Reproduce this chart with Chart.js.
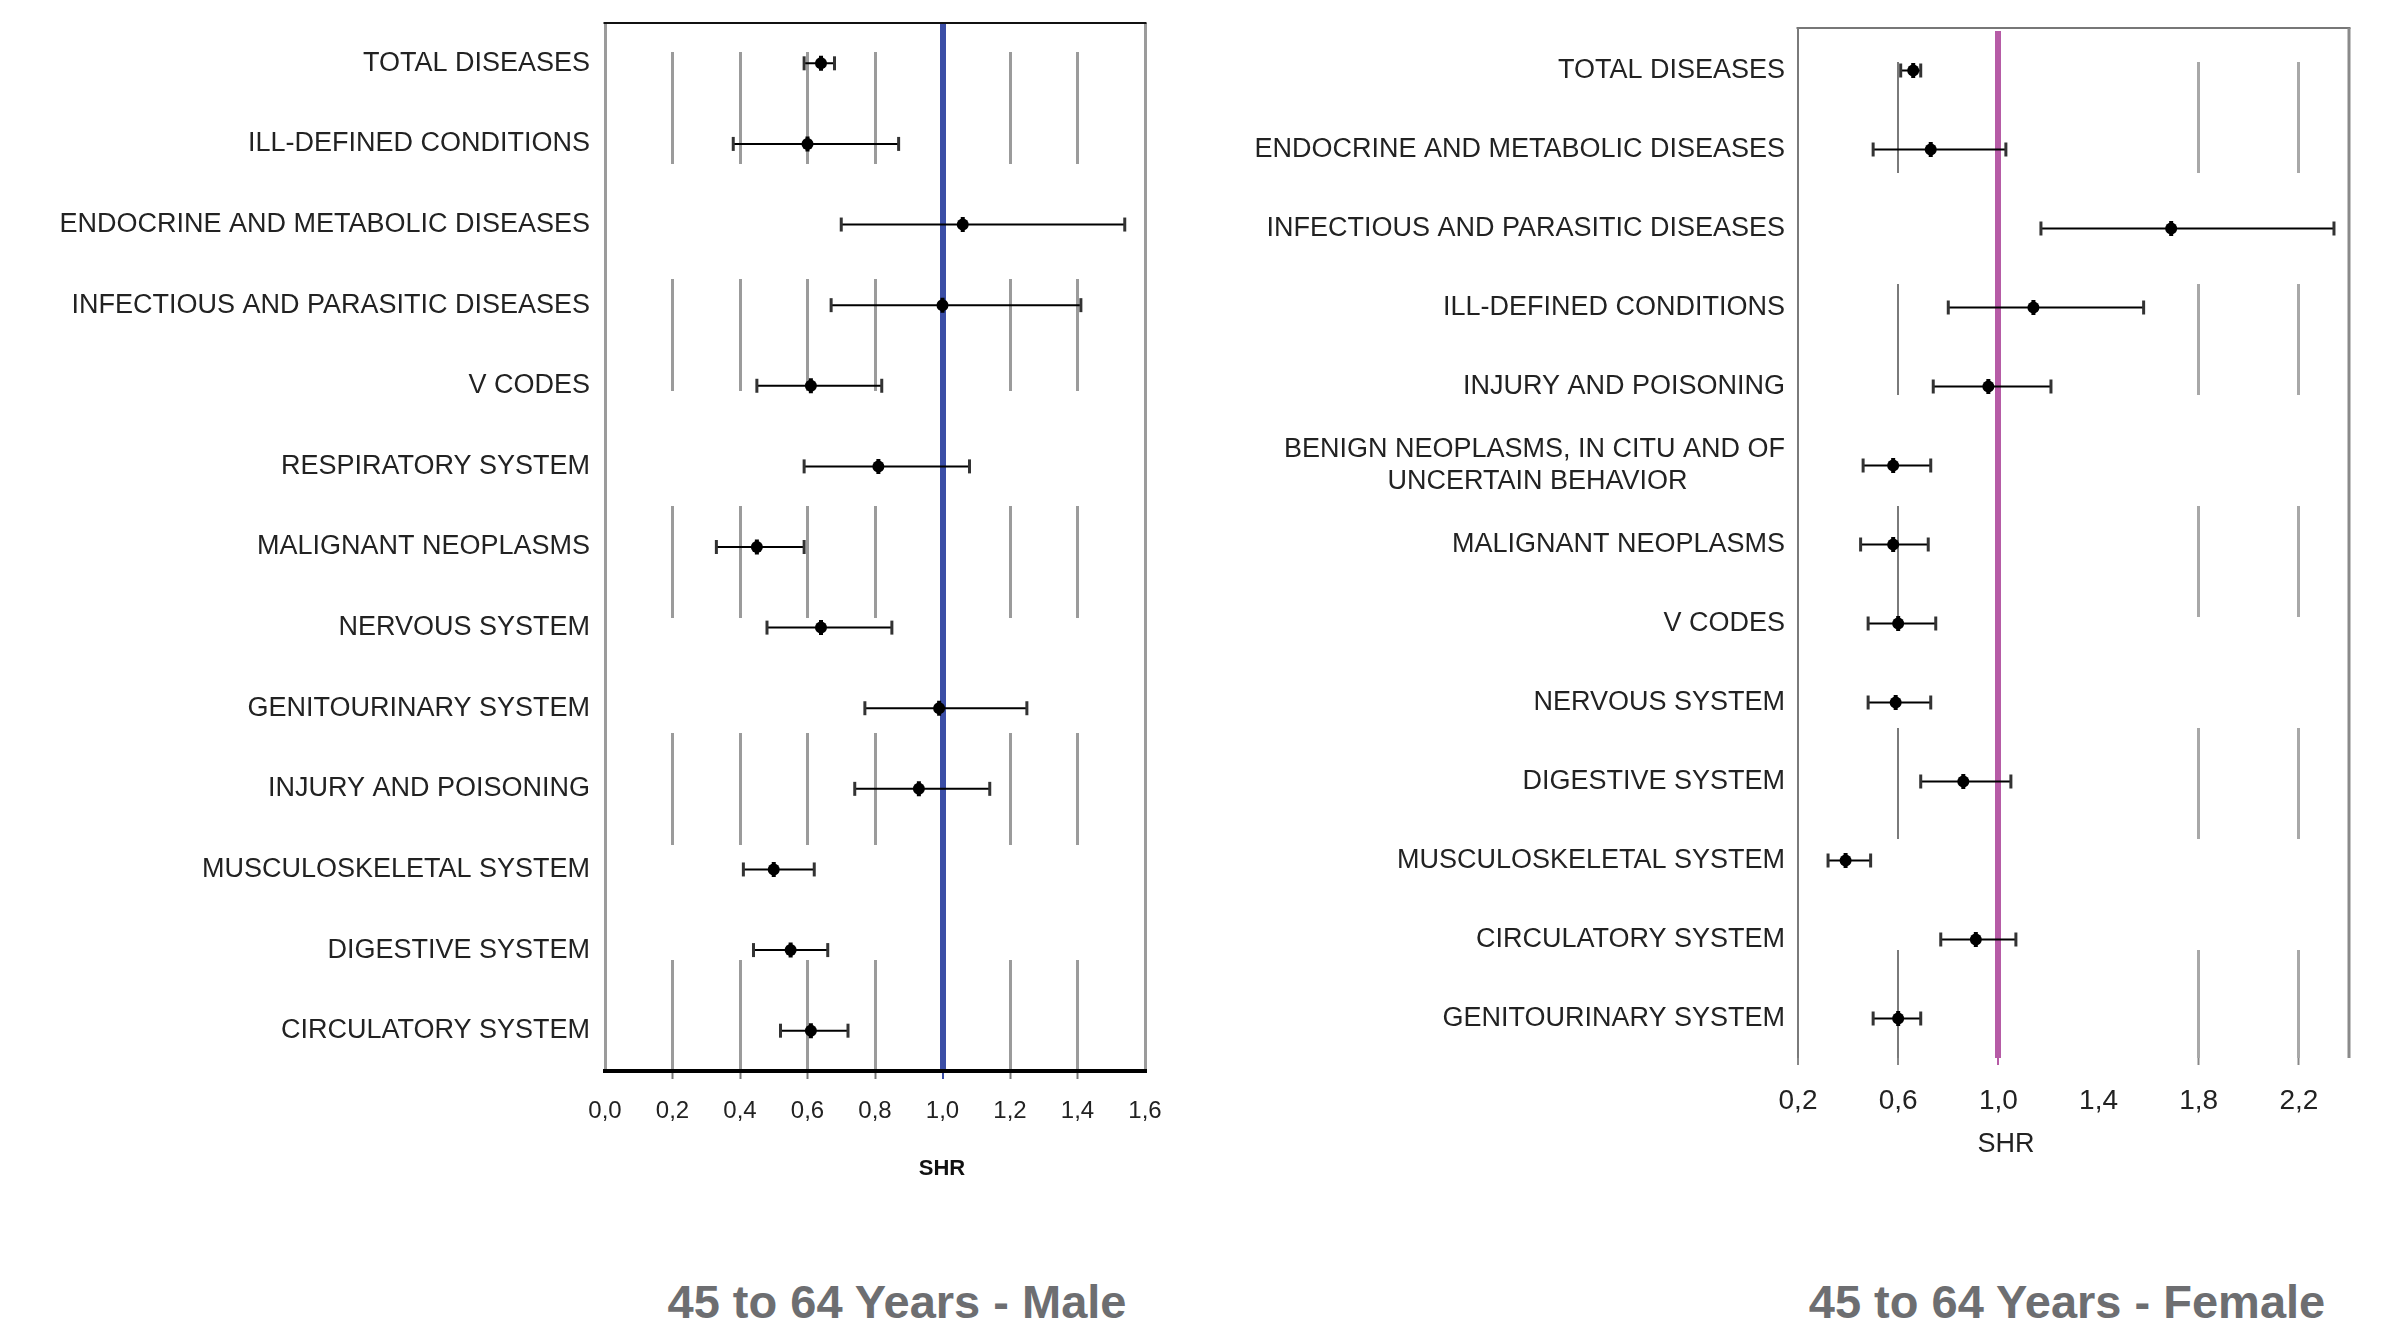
<!DOCTYPE html>
<html><head><meta charset="utf-8">
<script src="https://cdn.jsdelivr.net/npm/chart.js@4.4.0/dist/chart.umd.min.js"></script>
<style>
html,body{margin:0;padding:0;background:#fff;}
body{width:2403px;height:1334px;position:relative;overflow:hidden;font-family:"Liberation Sans",Arial,sans-serif;}
canvas{position:absolute;top:0;}
#cMale{left:0;}
#cFemale{left:1200px;}
.lbl{position:absolute;white-space:nowrap;transform:translate(-50%,-50%);line-height:1;}
.ttl{font-weight:bold;font-size:47px;color:#6d6e71;}
</style></head><body>
<canvas id="cMale" width="1200" height="1200"></canvas>
<canvas id="cFemale" width="1203" height="1200"></canvas>
<div class="lbl" style="left:942px;top:1168px;font-weight:bold;font-size:22px;color:#111;">SHR</div>
<div class="lbl" style="left:2006px;top:1143px;font-size:27px;color:#222;">SHR</div>
<div class="lbl ttl" style="left:897px;top:1301px;">45 to 64 Years - Male</div>
<div class="lbl ttl" style="left:2067px;top:1301px;">45 to 64 Years - Female</div>
<script>
// ---------- DATA ----------
const maleCategories = ['TOTAL DISEASES','ILL-DEFINED CONDITIONS','ENDOCRINE AND METABOLIC DISEASES','INFECTIOUS AND PARASITIC DISEASES','V CODES','RESPIRATORY SYSTEM','MALIGNANT NEOPLASMS','NERVOUS SYSTEM','GENITOURINARY SYSTEM','INJURY AND POISONING','MUSCULOSKELETAL SYSTEM','DIGESTIVE SYSTEM','CIRCULATORY SYSTEM'];
const maleSHR   = [0.64, 0.60, 1.06, 1.00, 0.61, 0.81, 0.45, 0.64, 0.99, 0.93, 0.50, 0.55, 0.61];
const maleLower = [0.59, 0.38, 0.70, 0.67, 0.45, 0.59, 0.33, 0.48, 0.77, 0.74, 0.41, 0.44, 0.52];
const maleUpper = [0.68, 0.87, 1.54, 1.41, 0.82, 1.08, 0.59, 0.85, 1.25, 1.14, 0.62, 0.66, 0.72];
const maleTicks = [0, 0.2, 0.4, 0.6, 0.8, 1.0, 1.2, 1.4, 1.6];

const femaleCategories = ['TOTAL DISEASES','ENDOCRINE AND METABOLIC DISEASES','INFECTIOUS AND PARASITIC DISEASES','ILL-DEFINED CONDITIONS','INJURY AND POISONING','BENIGN NEOPLASMS, IN CITU AND OF\nUNCERTAIN BEHAVIOR','MALIGNANT NEOPLASMS','V CODES','NERVOUS SYSTEM','DIGESTIVE SYSTEM','MUSCULOSKELETAL SYSTEM','CIRCULATORY SYSTEM','GENITOURINARY SYSTEM'];
const femaleSHR   = [0.66, 0.73, 1.69, 1.14, 0.96, 0.58, 0.58, 0.60, 0.59, 0.86, 0.39, 0.91, 0.60];
const femaleLower = [0.61, 0.50, 1.17, 0.80, 0.74, 0.46, 0.45, 0.48, 0.48, 0.69, 0.32, 0.77, 0.50];
const femaleUpper = [0.69, 1.03, 2.34, 1.58, 1.21, 0.73, 0.72, 0.75, 0.73, 1.05, 0.49, 1.07, 0.69];
const femaleTicks = [0.2, 0.6, 1.0, 1.4, 1.8, 2.2];

// ---------- STYLE ----------
const FONT = '"Liberation Sans", Arial, sans-serif';
const BLUE = '#3b4ea6';
const PINK = '#b65ba6';

function fmt(v){ return v.toFixed(1).replace('.', ','); }
function tv(c){ return c && c.tick ? c.tick.value : null; }

function buildDatasets(cats, shr, lo, hi){
  const whisker = [];
  cats.forEach((c,i)=>{ whisker.push({x:lo[i],y:c},{x:hi[i],y:c},{x:null,y:c}); });
  const caps = [];
  cats.forEach((c,i)=>{ caps.push({x:lo[i],y:c},{x:hi[i],y:c}); });
  const pts = cats.map((c,i)=>({x:shr[i],y:c}));
  return [
    {label:'SHR', data:pts, showLine:false, pointStyle:'circle', pointRadius:6, pointHoverRadius:6,
     pointBackgroundColor:'#000', pointBorderColor:'#000', pointBorderWidth:0},
    {label:'SHR marker', data:pts, showLine:false, pointStyle:'line', pointRotation:90, pointRadius:7.5, pointHoverRadius:7.5,
     pointBorderColor:'#000', pointBorderWidth:4},
    {label:'CI caps', data:caps, showLine:false, pointStyle:'line', pointRotation:90, pointRadius:7, pointHoverRadius:7,
     pointBorderColor:'#333', pointBorderWidth:3},
    {label:'CI', data:whisker, showLine:true, spanGaps:false, borderColor:'#000', borderWidth:2,
     pointRadius:0, pointHoverRadius:0}
  ];
}

const framePlugin = {
  id:'frame',
  beforeDatasetsDraw(chart, args, opts){
    const {ctx, chartArea:a} = chart;
    const lift = opts.lift || 0;
    ctx.save();
    (opts.lines||[]).forEach(l=>{
      ctx.strokeStyle = l.color; ctx.lineWidth = l.width;
      ctx.beginPath();
      if (l.side==='top'){ ctx.moveTo(a.left-1.5, a.top-lift); ctx.lineTo(a.right+1.5, a.top-lift); }
      if (l.side==='right'){ ctx.moveTo(a.right, a.top-lift); ctx.lineTo(a.right, a.bottom); }
      if (l.side==='left'){ ctx.moveTo(a.left, a.top-lift); ctx.lineTo(a.left, a.bottom); }
      ctx.stroke();
    });
    ctx.restore();
  }
};

function yLabelCallback(value){
  const lab = this.getLabelForValue(value);
  if (lab.indexOf('\n') < 0) return lab;
  const lines = lab.split('\n');
  const ctx = this.ctx;
  ctx.save();
  ctx.font = '27px ' + FONT;
  const w0 = ctx.measureText(lines[0]).width;
  const w1 = ctx.measureText(lines[1]).width;
  const sp = ctx.measureText(' ').width;
  ctx.restore();
  const n = Math.max(0, Math.round((w0 - w1) / 2 / sp));
  return [lines[0], lines[1] + ' '.repeat(n)];
}

// ---------- MALE ----------
new Chart(document.getElementById('cMale'), {
  type:'scatter',
  data:{ datasets: buildDatasets(maleCategories, maleSHR, maleLower, maleUpper) },
  plugins:[framePlugin],
  options:{
    responsive:false, animation:false, events:[],
    layout:{ padding:{ top:23, right:55, left:0, bottom:0 } },
    plugins:{ legend:{display:false}, tooltip:{enabled:false},
      frame:{ lift:0, lines:[{side:'top', color:'#111', width:2}] } },
    scales:{
      x:{
        type:'linear', min:0, max:1.6,
        afterBuildTicks: s => { s.ticks = maleTicks.map(v=>({value:v})); },
        afterFit: s => { s.height = 129; s.paddingLeft = 0; s.paddingRight = 0; },
        ticks:{ callback: v => fmt(v), font:{family:FONT, size:24}, color:'#222', padding:18, maxRotation:0, autoSkip:false },
        grid:{
          color: c => tv(c)===1 ? BLUE : '#9b9b9b',
          lineWidth: c => tv(c)===1 ? 6 : 3,
          drawTicks:true, tickLength:8, tickWidth:2,
          tickColor: c => { const v=tv(c); if (v===1) return BLUE; if (v===0 || v===1.6) return 'rgba(0,0,0,0)'; return '#777'; }
        },
        border:{ display:true, color:'#000', width:4,
          dash: c => { const v=tv(c); return (v===null || v===0 || v===1 || v===1.6) ? [] : [112,115]; },
          dashOffset:198 }
      },
      y:{
        type:'category', labels: maleCategories, offset:true,
        afterFit: s => { s.width = 605; s.paddingTop = 0; s.paddingBottom = 0; },
        grid:{ display:false, drawTicks:false },
        border:{ display:false },
        ticks:{ font:{family:FONT, size:27}, color:'#222', padding:15, autoSkip:false }
      }
    }
  }
});

// ---------- FEMALE ----------
new Chart(document.getElementById('cFemale'), {
  type:'scatter',
  data:{ datasets: buildDatasets(femaleCategories, femaleSHR, femaleLower, femaleUpper) },
  plugins:[framePlugin],
  options:{
    responsive:false, animation:false, events:[],
    layout:{ padding:{ top:31, right:54, left:0, bottom:0 } },
    plugins:{ legend:{display:false}, tooltip:{enabled:false},
      frame:{ lift:3, lines:[{side:'top', color:'#777', width:2},{side:'right', color:'#8a8a8a', width:3},{side:'left', color:'#7a7a7a', width:2}] } },
    scales:{
      x:{
        type:'linear', min:0.2, max:2.4,
        afterBuildTicks: s => { s.ticks = femaleTicks.map(v=>({value:v})); },
        afterFit: s => { s.height = 142; s.paddingLeft = 0; s.paddingRight = 0; },
        ticks:{ callback: v => fmt(v), font:{family:FONT, size:28}, color:'#222', padding:19, maxRotation:0, autoSkip:false },
        grid:{
          color: c => { const v=tv(c); if (v===1) return PINK; if (v===1.4) return 'rgba(0,0,0,0)'; if (v===0.2 || v===0.6) return '#7a7a7a'; return '#a8a8a8'; },
          lineWidth: c => { const v=tv(c); if (v===1) return 6; if (v===0.2 || v===0.6) return 2; return 3; },
          drawTicks:true, tickLength:7, tickWidth:2,
          tickColor: c => { const v=tv(c); if (v===1) return PINK; if (v===1.4) return 'rgba(0,0,0,0)'; return '#888'; }
        },
        border:{ display:false,
          dash: c => { const v=tv(c); return (v===0.6 || v===1.8 || v===2.2) ? [111,111] : []; },
          dashOffset:191 }
      },
      y:{
        type:'category', labels: femaleCategories, offset:true,
        afterFit: s => { s.width = 598; s.paddingTop = 0; s.paddingBottom = 0; },
        grid:{ display:false, drawTicks:false },
        border:{ display:false },
        ticks:{ callback: yLabelCallback, font:{family:FONT, size:27, lineHeight:1.2}, color:'#222', padding:13, autoSkip:false }
      }
    }
  }
});
</script>
</body></html>
